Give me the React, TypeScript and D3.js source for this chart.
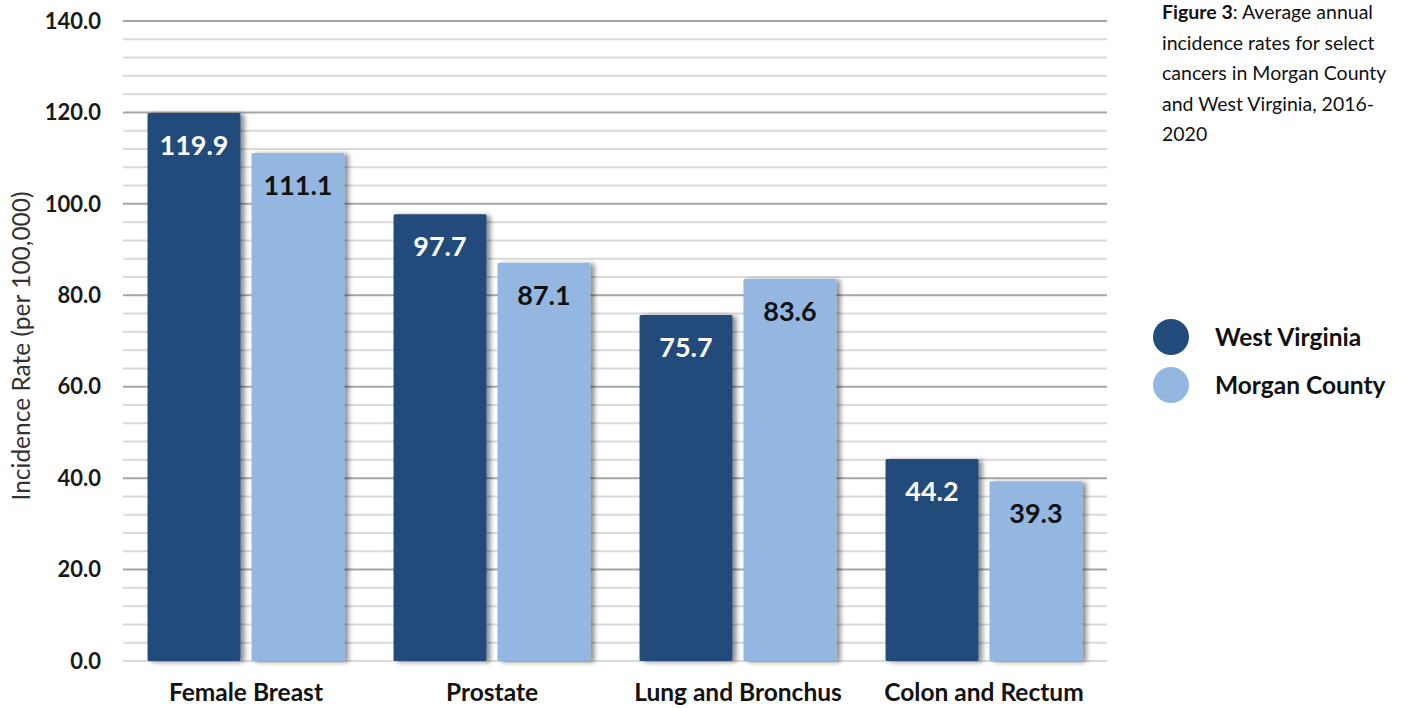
import React from "react";
import * as d3 from "d3";

const categories = ["Female Breast", "Prostate", "Lung and Bronchus", "Colon and Rectum"];
const seriesNames = ["West Virginia", "Morgan County"];
const westVirginia = [119.9, 97.7, 75.7, 44.2];
const morganCounty = [111.1, 87.1, 83.6, 39.3];
const majorTicks = [0, 20, 40, 60, 80, 100, 120, 140];
const titleLines = [
  [{ t: "Figure 3", b: true }, { t: ": Average annual", b: false }],
  [{ t: "incidence rates for select", b: false }],
  [{ t: "cancers in Morgan County", b: false }],
  [{ t: "and West Virginia, 2016-", b: false }],
  [{ t: "2020", b: false }],
];

const W = 1407;
const H = 708;
const colors = ["#234C7C", "#93B7E1"];
const font = "Lato, 'Open Sans', sans-serif";

export default function App() {
  const x0 = d3.scaleBand<string>().domain(categories).range([123, 1107]).paddingInner(0).paddingOuter(0);
  const x1 = d3.scaleBand<string>().domain(seriesNames).range([0, x0.bandwidth()]).paddingInner(0.106).paddingOuter(0.236);
  const y = d3.scaleLinear().domain([0, 140]).range([661, 21]);
  const minor = d3.range(0, 141, 4).filter((v) => v % 20 !== 0);
  const series = [westVirginia, morganCounty];

  return (
    <svg width={W} height={H} style={{ position: "absolute", left: 0, top: 0, background: "#fff" }}>
      <defs>
        <filter id="sh" x="-20%" y="-10%" width="150%" height="120%">
          <feGaussianBlur in="SourceAlpha" stdDeviation="2.5" />
          <feOffset dx="4" dy="1" result="b" />
          <feComponentTransfer><feFuncA type="linear" slope="0.45" /></feComponentTransfer>
          <feMerge><feMergeNode /><feMergeNode in="SourceGraphic" /></feMerge>
        </filter>
      </defs>
      <rect width={W} height={H} fill="#fff" />
      {minor.map((v) => (
        <line key={"m" + v} x1={123} x2={1107} y1={y(v)} y2={y(v)} stroke="#D9D9D9" strokeWidth={2} />
      ))}
      {majorTicks.map((v) => (
        <line key={"M" + v} x1={123} x2={1107} y1={y(v)} y2={y(v)} stroke={v === 0 ? "#D9D9D9" : "#A6A6A6"} strokeWidth={2} />
      ))}
      {majorTicks.map((v) => (
        <text key={"t" + v} x={101} y={y(v)} dy="0.35em" textAnchor="end" fontFamily={font} fontWeight="bold" fontSize={22} fill="#1a1a1a">
          {d3.format(".1f")(v)}
        </text>
      ))}
      <text transform={`translate(30,346) rotate(-90)`} textAnchor="middle" fontFamily={font} fontSize={24.5} fill="#333">
        Incidence Rate (per 100,000)
      </text>
      {categories.map((c, i) => (
        <g key={c} transform={`translate(${x0(c)},0)`}>
          {seriesNames.map((s, j) => {
            const v = series[j][i];
            const bx = x1(s)!;
            const bw = x1.bandwidth();
            return (
              <g key={s}>
                <rect x={bx} y={y(v)} width={bw} height={y(0) - y(v)} fill={colors[j]} rx={1.5} filter="url(#sh)" />
                <text x={bx + bw / 2} y={y(v) + 42} textAnchor="middle" fontFamily={font} fontWeight="bold" fontSize={27} fill={j === 0 ? "#fff" : "#111"}>
                  {d3.format(".1f")(v)}
                </text>
              </g>
            );
          })}
          <text x={x0.bandwidth() / 2} y={701} textAnchor="middle" fontFamily={font} fontWeight="bold" fontSize={24.5} fill="#111">
            {c}
          </text>
        </g>
      ))}
      {titleLines.map((ln, i) => (
        <text key={"tl" + i} x={1162} y={19 + i * 30.5} fontFamily={font} fontSize={19.5} fill="#111">
          {ln.map((p, k) => (
            <tspan key={k} fontWeight={p.b ? "bold" : "normal"}>{p.t}</tspan>
          ))}
        </text>
      ))}
      {seriesNames.map((s, j) => (
        <g key={"lg" + s} transform={`translate(0,${337 + j * 48})`}>
          <circle cx={1171} cy={0} r={18} fill={colors[j]} />
          <text x={1215} y={0} dy="0.35em" fontFamily={font} fontWeight="bold" fontSize={24.5} fill="#111">
            {s}
          </text>
        </g>
      ))}
    </svg>
  );
}
